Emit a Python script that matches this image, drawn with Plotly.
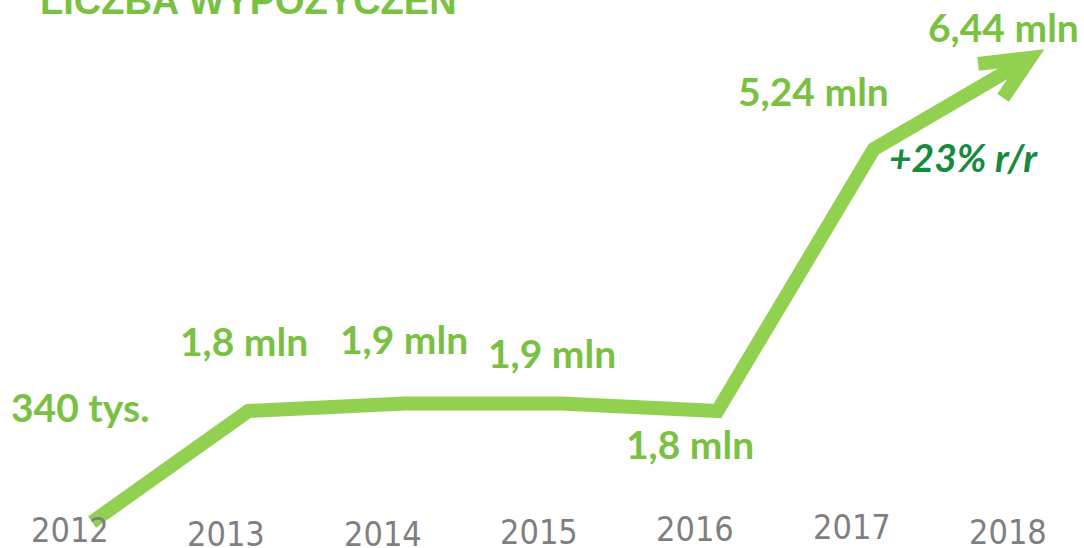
import plotly.graph_objects as go

# ---- data ----
years = [2012, 2013, 2014, 2015, 2016, 2017, 2018]
rentals_mln = [0.34, 1.8, 1.9, 1.9, 1.8, 5.24, 6.44]
value_labels = ["340 tys.", "1,8 mln", "1,9 mln", "1,9 mln", "1,8 mln", "5,24 mln", "6,44 mln"]
year_labels = ["2012", "2013", "2014", "2015", "2016", "2017", "2018"]
title_text = "LICZBA WYPOŻYCZEŃ"

# ---- style ----
LINE_GREEN = "#92D050"
LABEL_GREEN = "#7AC143"
DARK_GREEN = "#178A3E"
GRAY = "#7F7F7F"

# label offsets (pixels) relative to each point
label_dx = [-12, -4, -1, -9, -27, -60, -27]
label_dy = [115, 70, 64, 50, -33, 58, 31]
# year label vertical offsets (pixels above bottom)
year_dy = [18, 14, 14, 16, 19, 21, 16]
year_dx = -22

fig = go.Figure()
fig.add_trace(go.Scatter(
    x=years, y=rentals_mln, mode="lines",
    line=dict(color=LINE_GREEN, width=14),
    cliponaxis=False, hoverinfo="skip", showlegend=False,
))

# chevron arrow head at last point
fig.add_shape(
    type="path", xref="x", yref="y",
    xsizemode="pixel", ysizemode="pixel",
    xanchor=years[-1], yanchor=rentals_mln[-1],
    path="M -52,-6 L 0,0 L -27,-40",
    line=dict(color=LINE_GREEN, width=14),
)

annotations = []
for x, y, t, dx, dy in zip(years, rentals_mln, value_labels, label_dx, label_dy):
    annotations.append(dict(
        x=x, y=y, xref="x", yref="y", text=t, showarrow=False,
        xanchor="center", yanchor="middle", xshift=dx, yshift=dy,
        font=dict(family="Lato, Open Sans, sans-serif", size=39, color=LABEL_GREEN, weight="bold"),
    ))

growth = round((rentals_mln[-1] / rentals_mln[-2] - 1) * 100)
annotations.append(dict(
    x=years[-2], y=rentals_mln[-2], xref="x", yref="y",
    text=f"<i>+{growth}% r/r</i>", showarrow=False,
    xanchor="center", yanchor="middle", xshift=90, yshift=-8,
    font=dict(family="Lato, Open Sans, sans-serif", size=39, color=DARK_GREEN, weight="bold"),
))

for x, t, dy in zip(years, year_labels, year_dy):
    annotations.append(dict(
        x=x, y=0, xref="x", yref="y", text=t, showarrow=False,
        xanchor="center", yanchor="middle", xshift=year_dx, yshift=dy,
        font=dict(family="DejaVu Sans Condensed, DejaVu Sans, sans-serif", size=34, color=GRAY),
    ))

annotations.append(dict(
    x=0, y=1, xref="paper", yref="paper", text=title_text, showarrow=False,
    xanchor="left", yanchor="bottom", xshift=38, yshift=-24,
    font=dict(family="Liberation Sans, Arial, sans-serif", size=38, color=LABEL_GREEN, weight="bold"),
))

fig.update_layout(
    width=1084, height=548,
    margin=dict(l=0, r=0, t=0, b=0),
    paper_bgcolor="white", plot_bgcolor="white",
    xaxis=dict(range=[2011.411, 2018.345], visible=False, fixedrange=True),
    yaxis=dict(range=[0, 7.2], visible=False, fixedrange=True),
    annotations=annotations,
)

fig.write_html(
    "out.html",
    config={"displayModeBar": False},
    post_script="document.body.style.margin='0';document.body.style.padding='0';document.body.style.overflow='hidden';",
)
